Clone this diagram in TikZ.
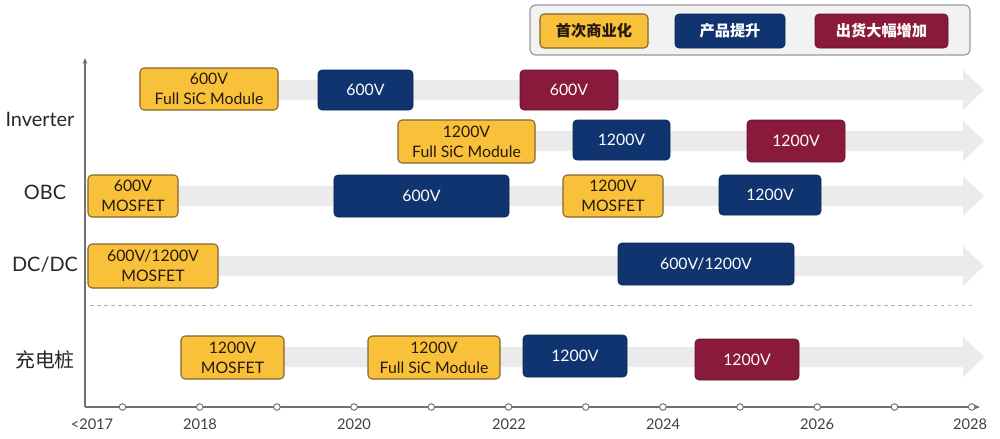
\documentclass[tikz,border=0pt]{standalone}
\usepackage{fontspec}
\setmainfont{Lato}
\newfontfamily\cjk{Noto Sans CJK SC}
\usetikzlibrary{arrows.meta}
\definecolor{boxyellow}{RGB}{249,193,58}
\definecolor{boxedge}{RGB}{132,100,46}
\definecolor{boxnavy}{RGB}{16,52,112}
\definecolor{boxwine}{RGB}{138,26,60}
\definecolor{bandgray}{RGB}{235,235,235}
\definecolor{axisgray}{RGB}{112,112,112}
\tikzset{
	stagebox/.style={rounded corners=3.5pt, align=center, inner sep=0pt, font=\fontsize{13.5}{17}\selectfont},
	firstbox/.style={stagebox, fill=boxyellow, draw=boxedge, line width=0.9pt, text=black!80!brown},
	upgradebox/.style={stagebox, fill=boxnavy, draw=boxnavy!70!black, line width=0.6pt, text=white},
	volumebox/.style={stagebox, fill=boxwine, draw=boxwine!70!black, line width=0.6pt, text=white},
	rowlabel/.style={font=\fontsize{17}{20}\selectfont, text=black!85},
	yearlabel/.style={font=\fontsize{12.5}{14}\selectfont, text=black!75},
}
\def\timeband(#1)(#2){\fill[bandgray] (#1,#2-10) -- (963,#2-10) -- (963,#2-20) -- (984,#2) -- (963,#2+20) -- (963,#2+10) -- (#1,#2+10) -- cycle;}

\begin{document}
\begin{tikzpicture}[x=0.03cm, y=-0.03cm]
			%%%%% START %%%%%
			\useasboundingbox (0,0) rectangle (1000,438);
			
			% grey time bands
			\timeband(140)(90)
			\timeband(398)(141)
			\timeband(88)(196)
			\timeband(88)(266)
			\timeband(181)(357)
			
			\draw[black!30, dashed, line width=0.6pt] (90,305) -- (975,305);
			
			% axes
			\coordinate (origin) at (85,407);
			\coordinate (ytop) at (85,58);
			\coordinate (xend) at (980,407);
			\draw[axisgray, line width=1pt, -{Stealth[length=5pt, width=4pt]}] (origin) -- (ytop);
			\draw[axisgray, line width=1pt, -{Stealth[length=5pt, width=4pt]}] (origin) -- (xend);
			\foreach \i in {0,...,11}
				\draw[axisgray, line width=0.8pt, fill=white] (122.5+\i*77.2, 407) circle (3.3);
			
			\node[yearlabel] (y2017) at (92,424) {<2017};
			\node[yearlabel] (y2018) at (200,424) {2018};
			\node[yearlabel] (y2020) at (354,424) {2020};
			\node[yearlabel] (y2022) at (509,424) {2022};
			\node[yearlabel] (y2024) at (663,424) {2024};
			\node[yearlabel] (y2026) at (817,424) {2026};
			\node[yearlabel] (y2028) at (970,424) {2028};
			
			% row labels
			\node[rowlabel] (inverter) at (40,119) {Inverter};
			\node[rowlabel] (obc) at (45,192) {OBC};
			\node[rowlabel] (dcdc) at (45,265) {DC/DC};
			\node[rowlabel, font=\cjk\fontsize{17}{20}\selectfont] (pile) at (45,360) {充电桩};
			
			% Inverter
			\node[firstbox, minimum width=4.14cm, minimum height=1.26cm] (inva) at (209,89) {600V\\Full SiC Module};
			\node[upgradebox, minimum width=2.85cm, minimum height=1.2cm] (invb) at (365.5,90) {600V};
			\node[volumebox, minimum width=2.94cm, minimum height=1.2cm] (invc) at (569,90) {600V};
			\node[firstbox, minimum width=4.11cm, minimum height=1.29cm] (invd) at (466.5,141.5) {1200V\\Full SiC Module};
			\node[upgradebox, minimum width=2.91cm, minimum height=1.2cm] (inve) at (621.5,140) {1200V};
			\node[volumebox, minimum width=2.94cm, minimum height=1.26cm] (invf) at (796,141) {1200V};
			
			% OBC
			\node[firstbox, minimum width=2.7cm, minimum height=1.26cm] (obca) at (133,196) {600V\\MOSFET};
			\node[upgradebox, minimum width=5.25cm, minimum height=1.26cm] (obcb) at (421.5,196) {600V};
			\node[firstbox, minimum width=3cm, minimum height=1.26cm] (obcc) at (613,196) {1200V\\MOSFET};
			\node[upgradebox, minimum width=3.06cm, minimum height=1.2cm] (obcd) at (770,195) {1200V};
			
			% DC/DC
			\node[firstbox, minimum width=3.9cm, minimum height=1.32cm] (dcdca) at (153,266) {600V/1200V\\MOSFET};
			\node[upgradebox, minimum width=5.28cm, minimum height=1.26cm] (dcdcb) at (706,264) {600V/1200V};
			
			% charging pile
			\node[firstbox, minimum width=3.09cm, minimum height=1.29cm] (pilea) at (232.5,357.5) {1200V\\MOSFET};
			\node[firstbox, minimum width=3.96cm, minimum height=1.29cm] (pileb) at (434,357.5) {1200V\\Full SiC Module};
			\node[upgradebox, minimum width=3.12cm, minimum height=1.26cm] (pilec) at (575,356) {1200V};
			\node[volumebox, minimum width=3.12cm, minimum height=1.23cm] (piled) at (747,359.5) {1200V};
			
			% legend
			\node[draw=black!40, fill=black!5, line width=1pt, rounded corners=5pt, minimum width=13.2cm, minimum height=1.5cm] (legend) at (750,30) {};
			\node[firstbox, font=\cjk\bfseries\fontsize{13}{15}\selectfont, minimum width=3.24cm, minimum height=1.02cm] (legfirst) at (594,31) {首次商业化};
			\node[upgradebox, font=\cjk\bfseries\fontsize{13}{15}\selectfont, minimum width=3.3cm, minimum height=1.02cm] (legupgrade) at (730,31) {产品提升};
			\node[volumebox, font=\cjk\bfseries\fontsize{13}{15}\selectfont, minimum width=3.99cm, minimum height=1.02cm] (legvolume) at (881.5,31) {出货大幅增加};
			%%%%% END %%%%%
		\end{tikzpicture}
\end{document}
